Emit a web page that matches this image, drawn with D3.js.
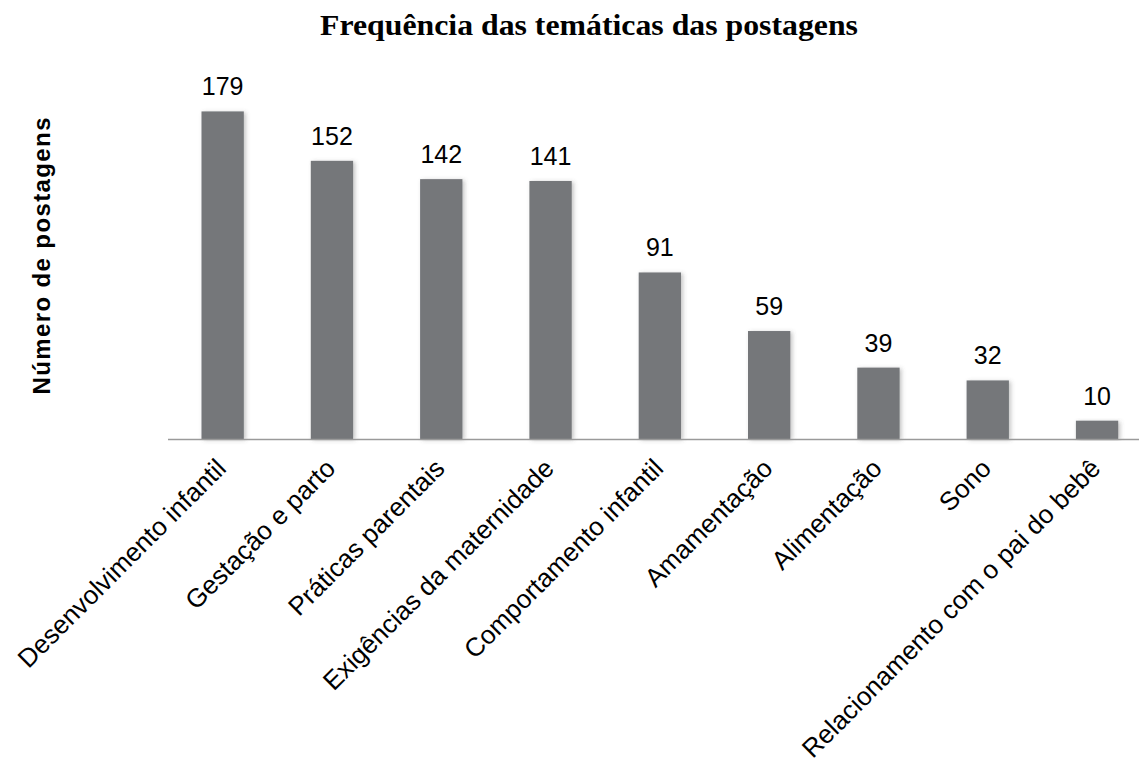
<!DOCTYPE html>
<html>
<head>
<meta charset="utf-8">
<script src="https://cdn.jsdelivr.net/npm/d3@7"></script>
<style>
  body { margin: 0; background: #fff; }
</style>
</head>
<body>
<div id="bar_graph"></div>
<script>
// Chart data
const categories = [
    "Desenvolvimento infantil",
    "Gestação e parto",
    "Práticas parentais",
    "Exigências da maternidade",
    "Comportamento infantil",
    "Amamentação",
    "Alimentação",
    "Sono",
    "Relacionamento com o pai do bebê"
];
const counts = [179, 152, 142, 141, 91, 59, 39, 32, 10];
const chartTitle = "Frequência das temáticas das postagens";
const yTitle = "Número de postagens";

// Declare the chart dimensions and margins.
const width = 1139;
const height = 762;
const marginLeft = 168;
const baseline = 439;
const sans = "'Liberation Sans', Arial, Helvetica, sans-serif";

const svg = d3.create("svg")
    .attr("width", width)
    .attr("height", height)
    .style("font-family", sans);

document.getElementById("bar_graph").append(svg.node());

// Soft shadow on the bars
const defs = svg.append("defs");
const filter = defs.append("filter")
    .attr("id", "shadow")
    .attr("x", "-30%").attr("y", "-10%")
    .attr("width", "160%").attr("height", "120%");
filter.append("feDropShadow")
    .attr("dx", 2).attr("dy", 1)
    .attr("stdDeviation", 2)
    .attr("flood-color", "#555")
    .attr("flood-opacity", 0.35);

// Scales
const x = d3.scaleBand()
    .domain(categories)
    .range([marginLeft, marginLeft + categories.length * 109.3])
    .paddingInner(0.613)
    .paddingOuter(0.3065);

const y = d3.scaleLinear()
    .domain([0, 179])
    .range([baseline, baseline - 179 * 1.83]);

const data = categories.map((c, i) => ({ name: c, value: counts[i] }));

// Bars
svg.append("g")
    .selectAll("rect")
    .data(data)
    .join("rect")
    .attr("x", d => x(d.name))
    .attr("y", d => y(d.value))
    .attr("width", x.bandwidth())
    .attr("height", d => y(0) - y(d.value))
    .attr("fill", "#74777a")
    .attr("filter", "url(#shadow)");

// Baseline axis line
svg.append("line")
    .attr("x1", marginLeft)
    .attr("x2", width)
    .attr("y1", y(0) + 0.5)
    .attr("y2", y(0) + 0.5)
    .attr("stroke", "#9a9a9a")
    .attr("stroke-width", 1.5);

// Value labels
svg.append("g")
    .selectAll("text")
    .data(data)
    .join("text")
    .attr("x", d => x(d.name) + x.bandwidth() / 2)
    .attr("y", d => y(d.value) - 16)
    .attr("text-anchor", "middle")
    .attr("font-size", 25)
    .attr("fill", "#000")
    .text(d => d.value);

// Category labels, rotated
svg.append("g")
    .selectAll("text")
    .data(data)
    .join("text")
    .attr("transform", d => {
        const cx = x(d.name) + x.bandwidth() / 2 + 5;
        return `translate(${cx},${baseline + 31}) rotate(-45)`;
    })
    .attr("text-anchor", "end")
    .attr("font-size", 26)
    .attr("fill", "#000")
    .text(d => d.name);

// Chart title
svg.append("text")
    .attr("x", 589)
    .attr("y", 35)
    .attr("text-anchor", "middle")
    .style("font-family", "'Liberation Serif', 'Times New Roman', serif")
    .attr("font-weight", "bold")
    .attr("font-size", 30)
    .attr("textLength", 538)
    .attr("lengthAdjust", "spacingAndGlyphs")
    .text(chartTitle);

// Y axis title
svg.append("text")
    .attr("transform", "rotate(-90)")
    .attr("x", -256)
    .attr("y", 50)
    .attr("text-anchor", "middle")
    .attr("font-weight", "bold")
    .attr("font-size", 24)
    .attr("textLength", 277)
    .attr("lengthAdjust", "spacing")
    .text(yTitle);
</script>
</body>
</html>
